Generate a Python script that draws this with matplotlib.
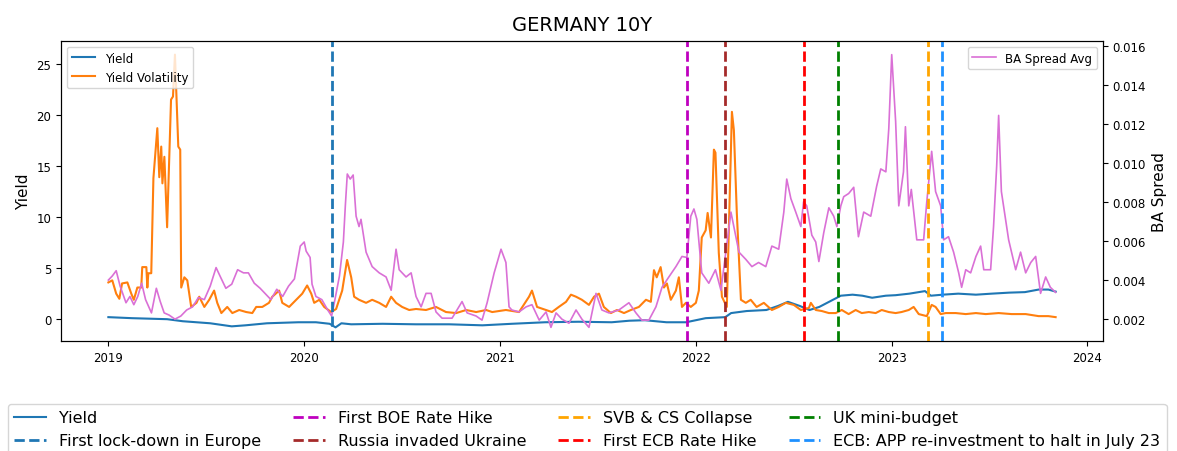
import numpy as np
import pandas as pd
import matplotlib
matplotlib.use("Agg")
import matplotlib.pyplot as plt
import matplotlib.dates as mdates

# --- data (x positions in decimal years) ---
yield_t = [2019.0, 2019.12, 2019.30, 2019.38, 2019.52, 2019.63, 2019.70, 2019.81, 2019.97,
           2020.06, 2020.13, 2020.16, 2020.19, 2020.24, 2020.40, 2020.57, 2020.74, 2020.91,
           2021.06, 2021.23, 2021.40, 2021.57, 2021.66, 2021.74, 2021.85, 2021.95,
           2022.05, 2022.15, 2022.18, 2022.26, 2022.36, 2022.42, 2022.47, 2022.53, 2022.58,
           2022.63, 2022.69, 2022.74, 2022.80, 2022.85, 2022.90, 2022.97, 2023.02, 2023.09,
           2023.17, 2023.20, 2023.26, 2023.34, 2023.43, 2023.51, 2023.60, 2023.68, 2023.75,
           2023.80, 2023.837]
yield_v = [0.2, 0.1, 0.0, -0.2, -0.4, -0.7, -0.6, -0.4, -0.3,
           -0.3, -0.45, -0.8, -0.4, -0.5, -0.45, -0.5, -0.5, -0.6,
           -0.45, -0.3, -0.25, -0.3, -0.15, -0.1, -0.3, -0.3,
           0.1, 0.2, 0.6, 0.8, 0.9, 1.3, 1.7, 1.3, 0.9,
           1.2, 1.8, 2.3, 2.4, 2.3, 2.1, 2.3, 2.35, 2.5,
           2.75, 2.3, 2.4, 2.5, 2.4, 2.5, 2.6, 2.65, 2.9,
           2.9, 2.7]

vol_t = [2019.0, 2019.02, 2019.04, 2019.056, 2019.07, 2019.097, 2019.117, 2019.13, 2019.148,
         2019.168, 2019.173, 2019.194, 2019.199, 2019.204, 2019.219, 2019.23, 2019.25, 2019.26,
         2019.27, 2019.276, 2019.286, 2019.30, 2019.32, 2019.33, 2019.34, 2019.357, 2019.367,
         2019.372, 2019.388, 2019.403, 2019.423, 2019.45, 2019.464, 2019.49, 2019.515, 2019.54,
         2019.556, 2019.577, 2019.607, 2019.633, 2019.668, 2019.704, 2019.735, 2019.755, 2019.786,
         2019.82, 2019.837, 2019.872, 2019.888, 2019.923, 2019.959, 2019.99, 2020.015, 2020.036,
         2020.051, 2020.077, 2020.102, 2020.138, 2020.163, 2020.194, 2020.219, 2020.24, 2020.255,
         2020.28, 2020.316, 2020.347, 2020.383, 2020.418, 2020.444, 2020.469, 2020.5, 2020.536,
         2020.571, 2020.622, 2020.673, 2020.724, 2020.776, 2020.827, 2020.878, 2020.929, 2020.96,
         2021.03, 2021.097, 2021.148, 2021.163, 2021.189, 2021.235, 2021.265, 2021.30, 2021.337,
         2021.362, 2021.388, 2021.418, 2021.454, 2021.48, 2021.505, 2021.53, 2021.566, 2021.597,
         2021.633, 2021.668, 2021.709, 2021.745, 2021.77, 2021.786, 2021.80, 2021.82, 2021.837,
         2021.852, 2021.872, 2021.898, 2021.913, 2021.929, 2021.949, 2021.974, 2022.0, 2022.015,
         2022.03, 2022.05, 2022.06, 2022.077, 2022.092, 2022.10, 2022.117, 2022.133, 2022.158,
         2022.179, 2022.184, 2022.194, 2022.209, 2022.23, 2022.255, 2022.28, 2022.31, 2022.347,
         2022.388, 2022.423, 2022.459, 2022.5, 2022.536, 2022.577, 2022.587, 2022.612, 2022.643,
         2022.679, 2022.714, 2022.745, 2022.78, 2022.816, 2022.847, 2022.883, 2022.918, 2022.949,
         2022.985, 2023.02, 2023.05, 2023.087, 2023.112, 2023.138, 2023.179, 2023.204, 2023.224,
         2023.25, 2023.276, 2023.327, 2023.378, 2023.43, 2023.48, 2023.546, 2023.612, 2023.684,
         2023.75, 2023.80, 2023.837]
vol_v = [3.6, 3.8, 2.5, 2.0, 3.5, 3.6, 2.5, 1.9, 3.1,
         3.1, 5.1, 5.1, 3.1, 4.5, 4.5, 13.8, 18.7, 13.9,
         16.9, 13.3, 15.9, 9.0, 21.5, 21.8, 25.9, 16.9, 16.6,
         3.1, 4.1, 3.8, 1.2, 1.6, 2.2, 1.2, 1.9, 2.8,
         1.6, 0.6, 1.2, 0.6, 0.9, 0.7, 0.6, 1.2, 1.2,
         1.6, 2.2, 2.8, 1.6, 1.2, 1.9, 2.5, 3.3, 2.5,
         1.6, 1.9, 1.2, 0.7, 1.0, 2.8, 5.8, 4.1, 2.2,
         1.9, 1.6, 1.9, 1.6, 1.2, 2.2, 1.6, 1.2, 0.9,
         1.0, 0.9, 1.2, 0.7, 0.6, 0.9, 0.7, 0.9, 0.7,
         0.9, 0.7, 2.2, 2.8, 1.2, 0.9, 0.7, 1.2, 1.7,
         2.4, 2.2, 1.9, 1.4, 2.2, 2.5, 1.2, 0.6, 0.9,
         0.6, 0.9, 1.2, 1.9, 1.7, 4.8, 4.1, 5.1, 3.1,
         3.5, 1.9, 2.8, 4.1, 1.2, 1.6, 1.2, 1.6, 2.8,
         8.0, 8.7, 10.4, 8.0, 16.6, 16.3, 6.5, 2.2, 1.2,
         16.3, 20.3, 18.5, 10.4, 1.9, 1.6, 1.9, 1.2, 1.6,
         0.9, 1.2, 1.6, 1.4, 0.9, 1.1, 1.6, 0.9, 0.8,
         0.6, 0.6, 0.9, 0.5, 0.9, 0.6, 0.7, 0.6, 0.9,
         0.7, 0.6, 0.7, 0.9, 1.2, 0.5, 0.3, 1.4, 1.2,
         0.5, 0.6, 0.6, 0.5, 0.6, 0.5, 0.6, 0.5, 0.5,
         0.3, 0.3, 0.2]

spread_t = [2019.0, 2019.02, 2019.04, 2019.06, 2019.09, 2019.11, 2019.13, 2019.15, 2019.17,
            2019.19, 2019.22, 2019.245, 2019.265, 2019.285, 2019.31, 2019.34, 2019.37, 2019.40,
            2019.43, 2019.46, 2019.49, 2019.52, 2019.55, 2019.57, 2019.60, 2019.63, 2019.66,
            2019.69, 2019.715, 2019.745, 2019.775, 2019.80, 2019.83, 2019.86, 2019.89, 2019.92,
            2019.95, 2019.98, 2020.0, 2020.01, 2020.03, 2020.04, 2020.06, 2020.09, 2020.12,
            2020.14, 2020.16, 2020.18, 2020.20, 2020.21, 2020.22, 2020.235, 2020.25, 2020.265,
            2020.28, 2020.29, 2020.316, 2020.347, 2020.383, 2020.418, 2020.444, 2020.469, 2020.485,
            2020.52, 2020.546, 2020.571, 2020.597, 2020.622, 2020.648, 2020.673, 2020.704, 2020.755,
            2020.806, 2020.832, 2020.878, 2020.908, 2020.934, 2020.97, 2021.005, 2021.03, 2021.046,
            2021.06, 2021.097, 2021.133, 2021.163, 2021.20, 2021.235, 2021.26, 2021.286, 2021.316,
            2021.352, 2021.388, 2021.418, 2021.454, 2021.49, 2021.52, 2021.556, 2021.607, 2021.658,
            2021.694, 2021.724, 2021.76, 2021.796, 2021.827, 2021.862, 2021.898, 2021.929, 2021.954,
            2021.974, 2021.99, 2022.005, 2022.03, 2022.066, 2022.10, 2022.128, 2022.153, 2022.179,
            2022.194, 2022.22, 2022.255, 2022.286, 2022.32, 2022.357, 2022.388, 2022.423, 2022.449,
            2022.464, 2022.485, 2022.51, 2022.536, 2022.55, 2022.566, 2022.592, 2022.612, 2022.628,
            2022.653, 2022.679, 2022.704, 2022.72, 2022.74, 2022.755, 2022.78, 2022.806, 2022.83,
            2022.857, 2022.893, 2022.923, 2022.944, 2022.97, 2022.985, 2023.0, 2023.02, 2023.036,
            2023.06, 2023.07, 2023.087, 2023.10, 2023.128, 2023.163, 2023.179, 2023.204, 2023.224,
            2023.25, 2023.265, 2023.29, 2023.316, 2023.342, 2023.357, 2023.378, 2023.403, 2023.43,
            2023.454, 2023.47, 2023.505, 2023.52, 2023.536, 2023.546, 2023.56, 2023.597, 2023.633,
            2023.658, 2023.684, 2023.71, 2023.735, 2023.76, 2023.786, 2023.81, 2023.837]
spread_v = [0.00400, 0.00421, 0.00448, 0.00369, 0.00284, 0.00316, 0.00274, 0.00316, 0.00384,
            0.00300, 0.00232, 0.00358, 0.00290, 0.00232, 0.00221, 0.00200, 0.00216, 0.00247,
            0.00263, 0.00311, 0.00300, 0.00369, 0.00464, 0.00421, 0.00358, 0.00379, 0.00453,
            0.00437, 0.00437, 0.00384, 0.00358, 0.00332, 0.00300, 0.00353, 0.00316, 0.00369,
            0.00406, 0.00574, 0.00595, 0.00548, 0.00516, 0.00379, 0.00316, 0.00300, 0.00247,
            0.00216, 0.00316, 0.00421, 0.00595, 0.00780, 0.00943, 0.00917, 0.00938, 0.00727,
            0.00674, 0.00711, 0.00543, 0.00469, 0.00437, 0.00416, 0.00348, 0.00558, 0.00453,
            0.00416, 0.00437, 0.00316, 0.00263, 0.00332, 0.00332, 0.00237, 0.00205, 0.00205,
            0.00290, 0.00232, 0.00216, 0.00195, 0.00284, 0.00437, 0.00558, 0.00490, 0.00263,
            0.00247, 0.00237, 0.00263, 0.00274, 0.00195, 0.00237, 0.00158, 0.00232, 0.00200,
            0.00179, 0.00247, 0.00200, 0.00158, 0.00332, 0.00247, 0.00232, 0.00247, 0.00284,
            0.00232, 0.00195, 0.00195, 0.00263, 0.00363, 0.00416, 0.00469, 0.00521, 0.00516,
            0.00727, 0.00764, 0.00711, 0.00437, 0.00384, 0.00453, 0.00348, 0.00543, 0.00748,
            0.00674, 0.00543, 0.00506, 0.00469, 0.00490, 0.00469, 0.00574, 0.00558, 0.00748,
            0.00917, 0.00817, 0.00748, 0.00674, 0.00801, 0.00780, 0.00630, 0.00595, 0.00495,
            0.00643, 0.00770, 0.00727, 0.00674, 0.00780, 0.00827, 0.00843, 0.00875, 0.00622,
            0.00748, 0.00727, 0.00880, 0.00969, 0.00954, 0.01175, 0.01554, 0.01212, 0.00780,
            0.00954, 0.01185, 0.00780, 0.00864, 0.00606, 0.00606, 0.00801, 0.01059, 0.00853,
            0.00780, 0.00606, 0.00622, 0.00543, 0.00437, 0.00363, 0.00453, 0.00437, 0.00521,
            0.00574, 0.00453, 0.00453, 0.00674, 0.00985, 0.01243, 0.00853, 0.00606, 0.00453,
            0.00543, 0.00437, 0.00490, 0.00521, 0.00332, 0.00416, 0.00363, 0.00337]

# events marked with vertical lines
event_labels = ["First lock-down in Europe", "First BOE Rate Hike", "Russia invaded Ukraine",
                "SVB & CS Collapse", "First ECB Rate Hike", "UK mini-budget",
                "ECB: APP re-investment to halt in July 23"]
event_dates = ["2020-02-22", "2021-12-16", "2022-02-24", "2023-03-09", "2022-07-21",
               "2022-09-23", "2023-04-04"]
event_colors = ["#1f77b4", "m", "brown", "orange", "red", "green", "dodgerblue"]


def to_dates(years):
    years = np.asarray(years, dtype=float)
    return pd.Timestamp("2019-01-01") + pd.to_timedelta((years - 2019) * 365.25, unit="D")


fig = plt.figure(figsize=(11.77, 4.52), dpi=100)
ax = fig.add_axes([61 / 1177, 1 - 342 / 452, 1042 / 1177, 300 / 452])

l_yield, = ax.plot(to_dates(yield_t), yield_v, color="#1f77b4", lw=1.5, label="Yield")
l_vol, = ax.plot(to_dates(vol_t), vol_v, color="#ff7f0e", lw=1.5, label="Yield Volatility")
ax.set_ylabel("Yield", fontsize=11)
ax.tick_params(labelsize=8.5)
ax.legend(handles=[l_yield, l_vol], loc="upper left", fontsize=8.5)

ax2 = ax.twinx()
ax2.plot(to_dates(spread_t), spread_v, color="orchid", lw=1.2, label="BA Spread Avg")
ax2.set_ylabel("BA Spread", fontsize=11)
ax2.tick_params(labelsize=8.5)
ax2.legend(loc="upper right", fontsize=8.5)

event_handles = []
for lab, d, c in zip(event_labels, event_dates, event_colors):
    h = ax2.axvline(pd.Timestamp(d), color=c, ls="--", lw=2, label=lab)
    event_handles.append(h)

ax.xaxis.set_major_locator(mdates.YearLocator())
ax.xaxis.set_major_formatter(mdates.DateFormatter("%Y"))

ax.set_title("GERMANY 10Y", fontsize=14, pad=8)

# bottom legend, filled column by column
handles = [l_yield] + event_handles
fig.legend(handles, [h.get_label() for h in handles],
           loc="upper left", bbox_to_anchor=(8 / 1177, 1 - 405 / 452),
           ncol=4, fontsize=11.5, borderaxespad=0)

fig.savefig("out.png", dpi=100)
